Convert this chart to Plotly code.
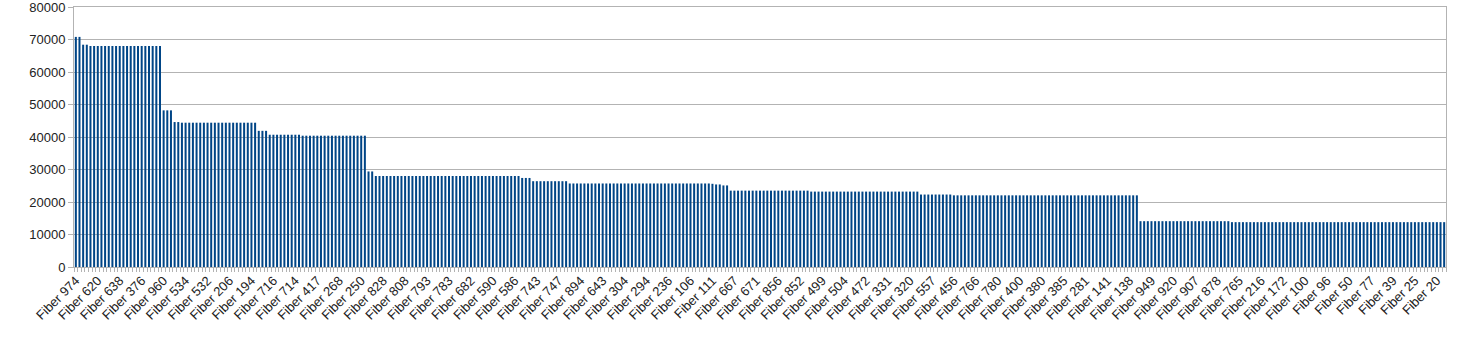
import plotly.graph_objects as go

# Visible category labels (every 6th bar is labelled)
tick_labels = ["Fiber 974", "Fiber 620", "Fiber 638", "Fiber 376", "Fiber 960", "Fiber 534",
               "Fiber 532", "Fiber 206", "Fiber 194", "Fiber 716", "Fiber 714", "Fiber 417",
               "Fiber 268", "Fiber 250", "Fiber 828", "Fiber 808", "Fiber 793", "Fiber 783",
               "Fiber 682", "Fiber 590", "Fiber 586", "Fiber 743", "Fiber 747", "Fiber 894",
               "Fiber 643", "Fiber 304", "Fiber 294", "Fiber 236", "Fiber 106", "Fiber 111",
               "Fiber 667", "Fiber 671", "Fiber 856", "Fiber 852", "Fiber 499", "Fiber 504",
               "Fiber 472", "Fiber 331", "Fiber 320", "Fiber 557", "Fiber 456", "Fiber 766",
               "Fiber 780", "Fiber 400", "Fiber 380", "Fiber 385", "Fiber 281", "Fiber 141",
               "Fiber 138", "Fiber 949", "Fiber 920", "Fiber 907", "Fiber 878", "Fiber 765",
               "Fiber 216", "Fiber 172", "Fiber 100", "Fiber 96", "Fiber 50", "Fiber 77",
               "Fiber 39", "Fiber 25", "Fiber 20"]
label_step = 6

# Bar values, as runs of equal values (value, number of bars)
segment_values = [70800, 68400, 68000, 48200, 44600, 44400, 41900, 40700, 40400,
                  29400, 28000, 27400, 26400, 25700, 25600, 25400, 25100,
                  23500, 23200, 22300, 22050, 14100, 13800]
segment_counts = [2, 2, 20, 3, 2, 21, 3, 9, 18,
                  2, 40, 3, 10, 39, 1, 2, 2,
                  22, 30, 9, 51, 25, 59]

values = []
for v, c in zip(segment_values, segment_counts):
    values.extend([v] * c)
n = len(values)
positions = list(range(n))
tick_positions = [i * label_step for i in range(len(tick_labels))]

y_ticks = [0, 10000, 20000, 30000, 40000, 50000, 60000, 70000, 80000]

font_family = "Liberation Sans, Arial, sans-serif"
grid_color = "#b3b3b3"
text_color = "#222222"

fig = go.Figure(go.Bar(x=positions, y=values, marker=dict(color="#004586", line=dict(width=0)),
                       hoverinfo="y"))

fig.update_layout(
    width=1476, height=340,
    margin=dict(l=74, r=30, t=7, b=73),
    paper_bgcolor="white", plot_bgcolor="white",
    bargap=0.45,
    showlegend=False,
    font=dict(family=font_family, size=13, color=text_color),
)
fig.update_xaxes(
    range=[-0.5, n - 0.5], automargin=False,
    tickmode="array", tickvals=tick_positions, ticktext=tick_labels,
    tickangle=-45, ticks="", showgrid=False, zeroline=False,
    showline=True, linecolor=grid_color, linewidth=1, mirror=True,
    tickfont=dict(family=font_family, size=13, color=text_color),
    minor=dict(ticks="outside", ticklen=4, tickcolor=grid_color, tickmode="linear",
               tick0=-0.5, dtick=1, showgrid=False),
)
fig.update_yaxes(
    range=[0, 80000], automargin=False, tickmode="array", tickvals=y_ticks,
    ticktext=[str(v) for v in y_ticks],
    ticklabeloverflow="allow",
    showgrid=True, gridcolor=grid_color, gridwidth=1, zeroline=False,
    showline=True, linecolor=grid_color, linewidth=1, mirror=True,
    ticks="outside", ticklen=5, tickcolor=grid_color,
    tickfont=dict(family=font_family, size=13, color=text_color),
)

fig.write_html("out.html")
